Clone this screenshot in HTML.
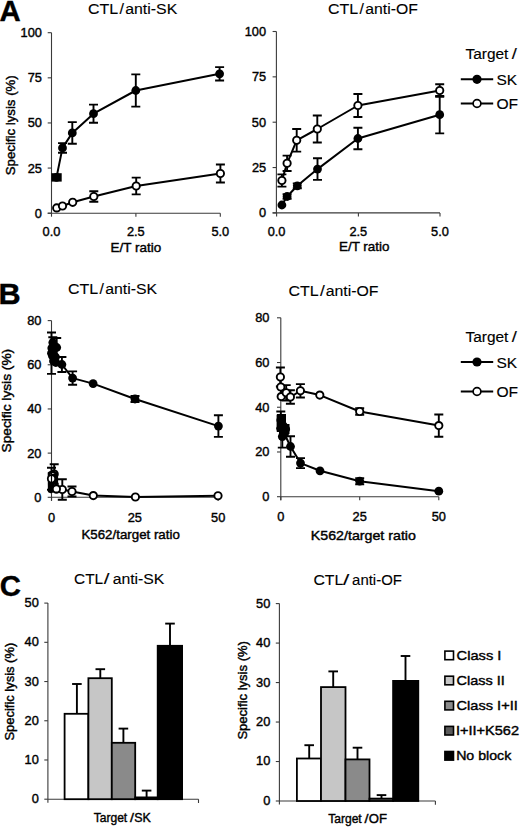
<!DOCTYPE html>
<html><head><meta charset="utf-8"><style>
html,body{margin:0;padding:0;background:#fff;}
svg{display:block;font-family:"Liberation Sans",sans-serif;}
</style></head><body>
<svg width="520" height="827" viewBox="0 0 520 827">
<rect width="520" height="827" fill="#fff"/>
<text transform="translate(-0.43,21.30) scale(1.0125,1)" font-size="29.0" font-weight="bold" fill="#000" stroke="#000" stroke-width="0.4">A</text>
<text transform="translate(87.99,13.60) scale(1.0329,1)" font-size="15.5" fill="#000" stroke="#000" stroke-width="0.12">CTL</text>
<text transform="translate(119.40,13.60) scale(1.0450,1)" font-size="15.5" fill="#000" stroke="#000" stroke-width="0.12">/</text>
<text transform="translate(125.23,13.60) scale(1.0241,1)" font-size="15.5" fill="#000" stroke="#000" stroke-width="0.12">anti-SK</text>
<text transform="translate(327.99,13.60) scale(1.0329,1)" font-size="15.5" fill="#000" stroke="#000" stroke-width="0.12">CTL</text>
<text transform="translate(359.60,13.60) scale(1.0217,1)" font-size="15.5" fill="#000" stroke="#000" stroke-width="0.12">/</text>
<text transform="translate(365.33,13.60) scale(1.0179,1)" font-size="15.5" fill="#000" stroke="#000" stroke-width="0.12">anti-OF</text>
<line x1="51.50" y1="32.70" x2="51.50" y2="213.20" stroke="#3a3a3a" stroke-width="1.1"/>
<line x1="47.70" y1="32.70" x2="51.50" y2="32.70" stroke="#3a3a3a" stroke-width="1.1"/>
<text transform="translate(20.54,37.17) scale(1.0000,1)" font-size="12.8" fill="#000" stroke="#000" stroke-width="0.4">100</text>
<line x1="47.70" y1="77.83" x2="51.50" y2="77.83" stroke="#3a3a3a" stroke-width="1.1"/>
<text transform="translate(27.70,82.29) scale(1.0000,1)" font-size="12.8" fill="#000" stroke="#000" stroke-width="0.4">75</text>
<line x1="47.70" y1="122.95" x2="51.50" y2="122.95" stroke="#3a3a3a" stroke-width="1.1"/>
<text transform="translate(27.66,127.42) scale(1.0000,1)" font-size="12.8" fill="#000" stroke="#000" stroke-width="0.4">50</text>
<line x1="47.70" y1="168.07" x2="51.50" y2="168.07" stroke="#3a3a3a" stroke-width="1.1"/>
<text transform="translate(27.70,172.54) scale(1.0000,1)" font-size="12.8" fill="#000" stroke="#000" stroke-width="0.4">25</text>
<line x1="47.70" y1="213.20" x2="51.50" y2="213.20" stroke="#3a3a3a" stroke-width="1.1"/>
<text transform="translate(34.78,217.67) scale(1.0000,1)" font-size="12.8" fill="#000" stroke="#000" stroke-width="0.4">0</text>
<line x1="47.70" y1="213.20" x2="220.30" y2="213.20" stroke="#3a3a3a" stroke-width="1.1"/>
<line x1="51.50" y1="213.20" x2="51.50" y2="216.70" stroke="#3a3a3a" stroke-width="1.1"/>
<text transform="translate(42.60,236.30) scale(1.0000,1)" font-size="12.8" fill="#000" stroke="#000" stroke-width="0.4">0.0</text>
<line x1="135.90" y1="213.20" x2="135.90" y2="216.70" stroke="#3a3a3a" stroke-width="1.1"/>
<text transform="translate(126.95,236.30) scale(1.0000,1)" font-size="12.8" fill="#000" stroke="#000" stroke-width="0.4">2.5</text>
<line x1="220.30" y1="213.20" x2="220.30" y2="216.70" stroke="#3a3a3a" stroke-width="1.1"/>
<text transform="translate(211.40,236.30) scale(1.0000,1)" font-size="12.8" fill="#000" stroke="#000" stroke-width="0.4">5.0</text>
<text transform="translate(110.60,252.30) scale(1.0684,1)" font-size="12.6" fill="#000" stroke="#000" stroke-width="0.4">E/T ratio</text>
<text transform="translate(14.90,175.20) rotate(-90) scale(1.0505,1)" font-size="12.6" stroke="#000" stroke-width="0.4">Specific lysis (%)</text>
<polyline points="56.50,177.40 62.50,147.90 72.30,132.90 93.50,113.70 135.80,90.50 219.60,73.80" fill="none" stroke="#000" stroke-width="2.0" stroke-linejoin="round"/>
<polyline points="56.70,207.90 62.50,206.00 72.70,202.30 93.80,196.50 136.20,186.00 220.40,173.50" fill="none" stroke="#000" stroke-width="2.0" stroke-linejoin="round"/>
<path d="M62.50 143.10V152.70M58.00 143.10H67.00M58.00 152.70H67.00" stroke="#000" stroke-width="1.9" fill="none"/>
<path d="M72.30 122.10V143.70M67.80 122.10H76.80M67.80 143.70H76.80" stroke="#000" stroke-width="1.9" fill="none"/>
<path d="M93.50 104.60V122.80M89.00 104.60H98.00M89.00 122.80H98.00" stroke="#000" stroke-width="1.9" fill="none"/>
<path d="M135.80 74.40V106.60M131.30 74.40H140.30M131.30 106.60H140.30" stroke="#000" stroke-width="1.9" fill="none"/>
<path d="M219.60 67.10V80.50M215.10 67.10H224.10M215.10 80.50H224.10" stroke="#000" stroke-width="1.9" fill="none"/>
<path d="M93.80 191.30V201.70M89.30 191.30H98.30M89.30 201.70H98.30" stroke="#000" stroke-width="1.9" fill="none"/>
<path d="M136.20 177.60V194.40M131.70 177.60H140.70M131.70 194.40H140.70" stroke="#000" stroke-width="1.9" fill="none"/>
<path d="M220.40 164.50V182.50M215.90 164.50H224.90M215.90 182.50H224.90" stroke="#000" stroke-width="1.9" fill="none"/>
<circle cx="56.50" cy="177.40" r="4.4" fill="#000"/>
<circle cx="62.50" cy="147.90" r="4.4" fill="#000"/>
<circle cx="72.30" cy="132.90" r="4.4" fill="#000"/>
<circle cx="93.50" cy="113.70" r="4.4" fill="#000"/>
<circle cx="135.80" cy="90.50" r="4.4" fill="#000"/>
<circle cx="219.60" cy="73.80" r="4.4" fill="#000"/>
<rect x="51.4" y="173.2" width="10.3" height="8.4" fill="#000"/>
<circle cx="56.70" cy="207.90" r="3.65" fill="#fff" stroke="#000" stroke-width="1.9"/>
<circle cx="62.50" cy="206.00" r="3.65" fill="#fff" stroke="#000" stroke-width="1.9"/>
<circle cx="72.70" cy="202.30" r="3.65" fill="#fff" stroke="#000" stroke-width="1.9"/>
<circle cx="93.80" cy="196.50" r="3.65" fill="#fff" stroke="#000" stroke-width="1.9"/>
<circle cx="136.20" cy="186.00" r="3.65" fill="#fff" stroke="#000" stroke-width="1.9"/>
<circle cx="220.40" cy="173.50" r="3.65" fill="#fff" stroke="#000" stroke-width="1.9"/>
<line x1="276.40" y1="31.50" x2="276.40" y2="212.90" stroke="#3a3a3a" stroke-width="1.1"/>
<line x1="272.60" y1="31.50" x2="276.40" y2="31.50" stroke="#3a3a3a" stroke-width="1.1"/>
<text transform="translate(244.74,35.97) scale(1.0000,1)" font-size="12.8" fill="#000" stroke="#000" stroke-width="0.4">100</text>
<line x1="272.60" y1="76.85" x2="276.40" y2="76.85" stroke="#3a3a3a" stroke-width="1.1"/>
<text transform="translate(251.90,81.32) scale(1.0000,1)" font-size="12.8" fill="#000" stroke="#000" stroke-width="0.4">75</text>
<line x1="272.60" y1="122.20" x2="276.40" y2="122.20" stroke="#3a3a3a" stroke-width="1.1"/>
<text transform="translate(251.86,126.67) scale(1.0000,1)" font-size="12.8" fill="#000" stroke="#000" stroke-width="0.4">50</text>
<line x1="272.60" y1="167.55" x2="276.40" y2="167.55" stroke="#3a3a3a" stroke-width="1.1"/>
<text transform="translate(251.90,172.02) scale(1.0000,1)" font-size="12.8" fill="#000" stroke="#000" stroke-width="0.4">25</text>
<line x1="272.60" y1="212.90" x2="276.40" y2="212.90" stroke="#3a3a3a" stroke-width="1.1"/>
<text transform="translate(258.98,217.37) scale(1.0000,1)" font-size="12.8" fill="#000" stroke="#000" stroke-width="0.4">0</text>
<line x1="272.60" y1="212.90" x2="440.00" y2="212.90" stroke="#3a3a3a" stroke-width="1.1"/>
<line x1="276.60" y1="212.90" x2="276.60" y2="216.40" stroke="#3a3a3a" stroke-width="1.1"/>
<text transform="translate(267.70,235.60) scale(1.0000,1)" font-size="12.8" fill="#000" stroke="#000" stroke-width="0.4">0.0</text>
<line x1="358.40" y1="212.90" x2="358.40" y2="216.40" stroke="#3a3a3a" stroke-width="1.1"/>
<text transform="translate(349.45,235.60) scale(1.0000,1)" font-size="12.8" fill="#000" stroke="#000" stroke-width="0.4">2.5</text>
<line x1="440.00" y1="212.90" x2="440.00" y2="216.40" stroke="#3a3a3a" stroke-width="1.1"/>
<text transform="translate(431.10,235.60) scale(1.0000,1)" font-size="12.8" fill="#000" stroke="#000" stroke-width="0.4">5.0</text>
<text transform="translate(339.00,250.70) scale(1.0662,1)" font-size="12.6" fill="#000" stroke="#000" stroke-width="0.4">E/T ratio</text>
<polyline points="281.90,205.00 287.10,196.50 297.30,185.80 317.50,169.10 357.90,138.50 439.70,114.70" fill="none" stroke="#000" stroke-width="2.0" stroke-linejoin="round"/>
<polyline points="281.90,180.50 287.10,163.30 296.70,140.30 317.30,129.00 357.90,105.50 439.70,90.50" fill="none" stroke="#000" stroke-width="2.0" stroke-linejoin="round"/>
<path d="M287.10 194.30V198.70M282.60 194.30H291.60M282.60 198.70H291.60" stroke="#000" stroke-width="1.9" fill="none"/>
<path d="M297.30 183.40V188.20M292.80 183.40H301.80M292.80 188.20H301.80" stroke="#000" stroke-width="1.9" fill="none"/>
<path d="M317.50 158.30V179.90M313.00 158.30H322.00M313.00 179.90H322.00" stroke="#000" stroke-width="1.9" fill="none"/>
<path d="M357.90 127.70V149.30M353.40 127.70H362.40M353.40 149.30H362.40" stroke="#000" stroke-width="1.9" fill="none"/>
<path d="M439.70 96.00V133.40M435.20 96.00H444.20M435.20 133.40H444.20" stroke="#000" stroke-width="1.9" fill="none"/>
<path d="M281.90 174.40V186.60M277.40 174.40H286.40M277.40 186.60H286.40" stroke="#000" stroke-width="1.9" fill="none"/>
<path d="M287.10 155.60V171.00M282.60 155.60H291.60M282.60 171.00H291.60" stroke="#000" stroke-width="1.9" fill="none"/>
<path d="M296.70 129.00V151.60M292.20 129.00H301.20M292.20 151.60H301.20" stroke="#000" stroke-width="1.9" fill="none"/>
<path d="M317.30 115.50V142.50M312.80 115.50H321.80M312.80 142.50H321.80" stroke="#000" stroke-width="1.9" fill="none"/>
<path d="M357.90 94.00V117.00M353.40 94.00H362.40M353.40 117.00H362.40" stroke="#000" stroke-width="1.9" fill="none"/>
<path d="M439.70 84.20V96.80M435.20 84.20H444.20M435.20 96.80H444.20" stroke="#000" stroke-width="1.9" fill="none"/>
<circle cx="281.90" cy="205.00" r="4.4" fill="#000"/>
<circle cx="287.10" cy="196.50" r="4.4" fill="#000"/>
<circle cx="297.30" cy="185.80" r="4.4" fill="#000"/>
<circle cx="317.50" cy="169.10" r="4.4" fill="#000"/>
<circle cx="357.90" cy="138.50" r="4.4" fill="#000"/>
<circle cx="439.70" cy="114.70" r="4.4" fill="#000"/>
<circle cx="281.90" cy="180.50" r="3.65" fill="#fff" stroke="#000" stroke-width="1.9"/>
<circle cx="287.10" cy="163.30" r="3.65" fill="#fff" stroke="#000" stroke-width="1.9"/>
<circle cx="296.70" cy="140.30" r="3.65" fill="#fff" stroke="#000" stroke-width="1.9"/>
<circle cx="317.30" cy="129.00" r="3.65" fill="#fff" stroke="#000" stroke-width="1.9"/>
<circle cx="357.90" cy="105.50" r="3.65" fill="#fff" stroke="#000" stroke-width="1.9"/>
<circle cx="439.70" cy="90.50" r="3.65" fill="#fff" stroke="#000" stroke-width="1.9"/>
<text transform="translate(465.45,58.80) scale(0.9969,1)" font-size="15.5" fill="#000" stroke="#000" stroke-width="0.15">Target</text>
<text transform="translate(511.80,58.80) scale(1.1843,1)" font-size="15.5" fill="#000" stroke="#000" stroke-width="0.15">/</text>
<line x1="460.80" y1="79.30" x2="493.20" y2="79.30" stroke="#000" stroke-width="2.0"/>
<circle cx="477.00" cy="79.30" r="4.6" fill="#000"/>
<text transform="translate(496.50,84.80) scale(1.0617,1)" font-size="14.6" fill="#000" stroke="#000" stroke-width="0.15">SK</text>
<line x1="460.80" y1="103.50" x2="493.20" y2="103.50" stroke="#000" stroke-width="2.0"/>
<circle cx="477.00" cy="103.50" r="3.9" fill="#fff" stroke="#000" stroke-width="1.7"/>
<text transform="translate(496.46,108.70) scale(1.0685,1)" font-size="14.6" fill="#000" stroke="#000" stroke-width="0.15">OF</text>
<text transform="translate(-1.55,304.00) scale(1.0573,1)" font-size="29.0" font-weight="bold" fill="#000" stroke="#000" stroke-width="0.4">B</text>
<text transform="translate(67.99,294.40) scale(1.0329,1)" font-size="15.5" fill="#000" stroke="#000" stroke-width="0.12">CTL</text>
<text transform="translate(99.60,294.40) scale(1.0217,1)" font-size="15.5" fill="#000" stroke="#000" stroke-width="0.12">/</text>
<text transform="translate(105.13,294.40) scale(1.0221,1)" font-size="15.5" fill="#000" stroke="#000" stroke-width="0.12">anti-SK</text>
<text transform="translate(288.39,295.80) scale(1.0329,1)" font-size="15.5" fill="#000" stroke="#000" stroke-width="0.12">CTL</text>
<text transform="translate(320.00,295.80) scale(1.1146,1)" font-size="15.5" fill="#000" stroke="#000" stroke-width="0.12">/</text>
<text transform="translate(325.63,295.80) scale(1.0239,1)" font-size="15.5" fill="#000" stroke="#000" stroke-width="0.12">anti-OF</text>
<line x1="51.50" y1="320.60" x2="51.50" y2="500.80" stroke="#3a3a3a" stroke-width="1.1"/>
<line x1="47.70" y1="320.60" x2="51.50" y2="320.60" stroke="#3a3a3a" stroke-width="1.1"/>
<text transform="translate(27.16,325.07) scale(1.0000,1)" font-size="12.8" fill="#000" stroke="#000" stroke-width="0.4">80</text>
<line x1="47.70" y1="364.78" x2="51.50" y2="364.78" stroke="#3a3a3a" stroke-width="1.1"/>
<text transform="translate(27.16,369.24) scale(1.0000,1)" font-size="12.8" fill="#000" stroke="#000" stroke-width="0.4">60</text>
<line x1="47.70" y1="408.95" x2="51.50" y2="408.95" stroke="#3a3a3a" stroke-width="1.1"/>
<text transform="translate(27.16,413.42) scale(1.0000,1)" font-size="12.8" fill="#000" stroke="#000" stroke-width="0.4">40</text>
<line x1="47.70" y1="453.12" x2="51.50" y2="453.12" stroke="#3a3a3a" stroke-width="1.1"/>
<text transform="translate(27.16,457.59) scale(1.0000,1)" font-size="12.8" fill="#000" stroke="#000" stroke-width="0.4">20</text>
<line x1="47.70" y1="497.30" x2="51.50" y2="497.30" stroke="#3a3a3a" stroke-width="1.1"/>
<text transform="translate(34.28,501.77) scale(1.0000,1)" font-size="12.8" fill="#000" stroke="#000" stroke-width="0.4">0</text>
<line x1="51.50" y1="497.30" x2="218.20" y2="497.30" stroke="#3a3a3a" stroke-width="1.1"/>
<line x1="51.50" y1="497.30" x2="51.50" y2="500.80" stroke="#3a3a3a" stroke-width="1.1"/>
<text transform="translate(47.94,521.50) scale(1.0000,1)" font-size="12.8" fill="#000" stroke="#000" stroke-width="0.4">0</text>
<line x1="134.80" y1="497.30" x2="134.80" y2="500.80" stroke="#3a3a3a" stroke-width="1.1"/>
<text transform="translate(127.63,521.50) scale(1.0000,1)" font-size="12.8" fill="#000" stroke="#000" stroke-width="0.4">25</text>
<line x1="218.20" y1="497.30" x2="218.20" y2="500.80" stroke="#3a3a3a" stroke-width="1.1"/>
<text transform="translate(211.07,521.50) scale(1.0000,1)" font-size="12.8" fill="#000" stroke="#000" stroke-width="0.4">50</text>
<text transform="translate(81.41,539.40) scale(1.0579,1)" font-size="12.6" fill="#000" stroke="#000" stroke-width="0.4">K562/target ratio</text>
<text transform="translate(10.50,452.42) rotate(-90) scale(1.0889,1)" font-size="12.6" stroke="#000" stroke-width="0.4">Specific lysis (%)</text>
<polyline points="51.50,353.20 52.80,342.50 51.80,348.00 54.10,346.00 52.50,356.00 56.70,347.50 53.50,361.00 55.50,357.00 55.80,362.50 61.90,364.50 72.60,378.10 93.10,383.60 135.00,399.00 218.40,426.10" fill="none" stroke="#000" stroke-width="2.0" stroke-linejoin="round"/>
<polyline points="51.50,478.80 54.20,474.00 52.50,484.00 56.40,488.90 62.30,489.50 72.00,491.50 93.30,495.60 135.40,497.00 218.00,495.80" fill="none" stroke="#000" stroke-width="2.0" stroke-linejoin="round"/>
<path d="M51.50 332.50V373.90M47.00 332.50H56.00M47.00 373.90H56.00" stroke="#000" stroke-width="1.9" fill="none"/>
<path d="M52.80 337.20V347.80M48.30 337.20H57.30M48.30 347.80H57.30" stroke="#000" stroke-width="1.9" fill="none"/>
<path d="M56.70 338.00V357.00M52.20 338.00H61.20M52.20 357.00H61.20" stroke="#000" stroke-width="1.9" fill="none"/>
<path d="M61.90 357.00V372.00M57.40 357.00H66.40M57.40 372.00H66.40" stroke="#000" stroke-width="1.9" fill="none"/>
<path d="M72.60 371.40V384.80M68.10 371.40H77.10M68.10 384.80H77.10" stroke="#000" stroke-width="1.9" fill="none"/>
<path d="M135.00 396.00V402.00M130.50 396.00H139.50M130.50 402.00H139.50" stroke="#000" stroke-width="1.9" fill="none"/>
<path d="M218.40 415.30V436.90M213.90 415.30H222.90M213.90 436.90H222.90" stroke="#000" stroke-width="1.9" fill="none"/>
<path d="M51.50 467.80V489.80M47.00 467.80H56.00M47.00 489.80H56.00" stroke="#000" stroke-width="1.9" fill="none"/>
<path d="M54.20 464.20V483.80M49.70 464.20H58.70M49.70 483.80H58.70" stroke="#000" stroke-width="1.9" fill="none"/>
<path d="M62.30 479.30V499.70M57.80 479.30H66.80M57.80 499.70H66.80" stroke="#000" stroke-width="1.9" fill="none"/>
<path d="M72.00 486.50V496.50M67.50 486.50H76.50M67.50 496.50H76.50" stroke="#000" stroke-width="1.9" fill="none"/>
<circle cx="51.50" cy="353.20" r="4.4" fill="#000"/>
<circle cx="52.80" cy="342.50" r="4.4" fill="#000"/>
<circle cx="51.80" cy="348.00" r="4.4" fill="#000"/>
<circle cx="54.10" cy="346.00" r="4.4" fill="#000"/>
<circle cx="52.50" cy="356.00" r="4.4" fill="#000"/>
<circle cx="56.70" cy="347.50" r="4.4" fill="#000"/>
<circle cx="53.50" cy="361.00" r="4.4" fill="#000"/>
<circle cx="55.50" cy="357.00" r="4.4" fill="#000"/>
<circle cx="55.80" cy="362.50" r="4.4" fill="#000"/>
<circle cx="61.90" cy="364.50" r="4.4" fill="#000"/>
<circle cx="72.60" cy="378.10" r="4.4" fill="#000"/>
<circle cx="93.10" cy="383.60" r="4.4" fill="#000"/>
<circle cx="135.00" cy="399.00" r="4.4" fill="#000"/>
<circle cx="218.40" cy="426.10" r="4.4" fill="#000"/>
<circle cx="51.50" cy="478.80" r="3.65" fill="#fff" stroke="#000" stroke-width="1.9"/>
<circle cx="54.20" cy="474.00" r="3.65" fill="#fff" stroke="#000" stroke-width="1.9"/>
<circle cx="52.50" cy="484.00" r="3.65" fill="#fff" stroke="#000" stroke-width="1.9"/>
<circle cx="56.40" cy="488.90" r="3.65" fill="#fff" stroke="#000" stroke-width="1.9"/>
<circle cx="62.30" cy="489.50" r="3.65" fill="#fff" stroke="#000" stroke-width="1.9"/>
<circle cx="72.00" cy="491.50" r="3.65" fill="#fff" stroke="#000" stroke-width="1.9"/>
<circle cx="93.30" cy="495.60" r="3.65" fill="#fff" stroke="#000" stroke-width="1.9"/>
<circle cx="135.40" cy="497.00" r="3.65" fill="#fff" stroke="#000" stroke-width="1.9"/>
<circle cx="218.00" cy="495.80" r="3.65" fill="#fff" stroke="#000" stroke-width="1.9"/>
<path d="M47.7 472.5 Q49 470.6 53 470.8 Q57.6 471 58.1 474.5 L58.1 482.8 Q57 484.6 54 485 L53.2 492.5 Q50 494 47.9 492 Z" fill="#000"/>
<circle cx="51.5" cy="478.8" r="2.8" fill="#fff"/>
<path d="M50.2 474.4 Q52.2 471.8 54.6 474.0 Q52.2 473.2 50.2 474.4 Z" fill="#fff"/>
<line x1="51.50" y1="471.00" x2="51.50" y2="487.00" stroke="#000" stroke-width="1.2"/>
<circle cx="56.40" cy="488.90" r="3.65" fill="#fff" stroke="#000" stroke-width="1.9"/>
<line x1="280.80" y1="317.80" x2="280.80" y2="500.20" stroke="#3a3a3a" stroke-width="1.1"/>
<line x1="277.00" y1="317.80" x2="280.80" y2="317.80" stroke="#3a3a3a" stroke-width="1.1"/>
<text transform="translate(255.16,322.27) scale(1.0000,1)" font-size="12.8" fill="#000" stroke="#000" stroke-width="0.4">80</text>
<line x1="277.00" y1="362.52" x2="280.80" y2="362.52" stroke="#3a3a3a" stroke-width="1.1"/>
<text transform="translate(255.16,366.99) scale(1.0000,1)" font-size="12.8" fill="#000" stroke="#000" stroke-width="0.4">60</text>
<line x1="277.00" y1="407.25" x2="280.80" y2="407.25" stroke="#3a3a3a" stroke-width="1.1"/>
<text transform="translate(255.16,411.72) scale(1.0000,1)" font-size="12.8" fill="#000" stroke="#000" stroke-width="0.4">40</text>
<line x1="277.00" y1="451.98" x2="280.80" y2="451.98" stroke="#3a3a3a" stroke-width="1.1"/>
<text transform="translate(255.16,456.44) scale(1.0000,1)" font-size="12.8" fill="#000" stroke="#000" stroke-width="0.4">20</text>
<line x1="277.00" y1="496.70" x2="280.80" y2="496.70" stroke="#3a3a3a" stroke-width="1.1"/>
<text transform="translate(262.28,501.17) scale(1.0000,1)" font-size="12.8" fill="#000" stroke="#000" stroke-width="0.4">0</text>
<line x1="280.80" y1="496.70" x2="438.80" y2="496.70" stroke="#3a3a3a" stroke-width="1.1"/>
<line x1="280.80" y1="496.70" x2="280.80" y2="500.20" stroke="#3a3a3a" stroke-width="1.1"/>
<text transform="translate(277.24,521.40) scale(1.0000,1)" font-size="12.8" fill="#000" stroke="#000" stroke-width="0.4">0</text>
<line x1="359.70" y1="496.70" x2="359.70" y2="500.20" stroke="#3a3a3a" stroke-width="1.1"/>
<text transform="translate(352.53,521.40) scale(1.0000,1)" font-size="12.8" fill="#000" stroke="#000" stroke-width="0.4">25</text>
<line x1="438.80" y1="496.70" x2="438.80" y2="500.20" stroke="#3a3a3a" stroke-width="1.1"/>
<text transform="translate(431.68,521.40) scale(1.0000,1)" font-size="12.8" fill="#000" stroke="#000" stroke-width="0.4">50</text>
<text transform="translate(310.83,540.40) scale(1.1289,1)" font-size="12.6" fill="#000" stroke="#000" stroke-width="0.4">K562/target ratio</text>
<polyline points="280.80,420.00 281.50,423.00 281.00,428.00 283.50,426.00 285.70,429.00 282.30,436.60 284.50,434.00 290.50,446.50 300.50,463.10 320.00,470.80 359.70,481.20 438.80,491.20" fill="none" stroke="#000" stroke-width="2.0" stroke-linejoin="round"/>
<polyline points="280.40,377.00 280.80,387.00 281.20,396.60 286.20,392.80 290.40,397.00 300.40,390.80 319.80,395.10 359.70,411.50 438.80,425.60" fill="none" stroke="#000" stroke-width="2.0" stroke-linejoin="round"/>
<path d="M280.80 411.50V428.50M276.30 411.50H285.30M276.30 428.50H285.30" stroke="#000" stroke-width="1.9" fill="none"/>
<path d="M281.50 415.00V431.00M277.00 415.00H286.00M277.00 431.00H286.00" stroke="#000" stroke-width="1.9" fill="none"/>
<path d="M282.30 425.60V447.60M277.80 425.60H286.80M277.80 447.60H286.80" stroke="#000" stroke-width="1.9" fill="none"/>
<path d="M290.50 436.20V456.80M286.00 436.20H295.00M286.00 456.80H295.00" stroke="#000" stroke-width="1.9" fill="none"/>
<path d="M300.50 458.10V468.10M296.00 458.10H305.00M296.00 468.10H305.00" stroke="#000" stroke-width="1.9" fill="none"/>
<path d="M359.70 478.20V484.20M355.20 478.20H364.20M355.20 484.20H364.20" stroke="#000" stroke-width="1.9" fill="none"/>
<path d="M280.40 367.50V386.50M275.90 367.50H284.90M275.90 386.50H284.90" stroke="#000" stroke-width="1.9" fill="none"/>
<path d="M286.20 385.10V400.50M281.70 385.10H290.70M281.70 400.50H290.70" stroke="#000" stroke-width="1.9" fill="none"/>
<path d="M290.40 390.20V403.80M285.90 390.20H294.90M285.90 403.80H294.90" stroke="#000" stroke-width="1.9" fill="none"/>
<path d="M300.40 384.10V397.50M295.90 384.10H304.90M295.90 397.50H304.90" stroke="#000" stroke-width="1.9" fill="none"/>
<path d="M359.70 408.30V414.70M355.20 408.30H364.20M355.20 414.70H364.20" stroke="#000" stroke-width="1.9" fill="none"/>
<path d="M438.80 414.50V436.70M434.30 414.50H443.30M434.30 436.70H443.30" stroke="#000" stroke-width="1.9" fill="none"/>
<circle cx="280.80" cy="420.00" r="4.4" fill="#000"/>
<circle cx="281.50" cy="423.00" r="4.4" fill="#000"/>
<circle cx="281.00" cy="428.00" r="4.4" fill="#000"/>
<circle cx="283.50" cy="426.00" r="4.4" fill="#000"/>
<circle cx="285.70" cy="429.00" r="4.4" fill="#000"/>
<circle cx="282.30" cy="436.60" r="4.4" fill="#000"/>
<circle cx="284.50" cy="434.00" r="4.4" fill="#000"/>
<circle cx="290.50" cy="446.50" r="4.4" fill="#000"/>
<circle cx="300.50" cy="463.10" r="4.4" fill="#000"/>
<circle cx="320.00" cy="470.80" r="4.4" fill="#000"/>
<circle cx="359.70" cy="481.20" r="4.4" fill="#000"/>
<circle cx="438.80" cy="491.20" r="4.4" fill="#000"/>
<rect x="276.6" y="414.6" width="9.4" height="17" fill="#000"/>
<rect x="279" y="424" width="10.5" height="10" fill="#000"/>
<circle cx="280.40" cy="377.00" r="3.65" fill="#fff" stroke="#000" stroke-width="1.9"/>
<circle cx="280.80" cy="387.00" r="3.65" fill="#fff" stroke="#000" stroke-width="1.9"/>
<circle cx="281.20" cy="396.60" r="3.65" fill="#fff" stroke="#000" stroke-width="1.9"/>
<circle cx="286.20" cy="392.80" r="3.65" fill="#fff" stroke="#000" stroke-width="1.9"/>
<circle cx="290.40" cy="397.00" r="3.65" fill="#fff" stroke="#000" stroke-width="1.9"/>
<circle cx="300.40" cy="390.80" r="3.65" fill="#fff" stroke="#000" stroke-width="1.9"/>
<circle cx="319.80" cy="395.10" r="3.65" fill="#fff" stroke="#000" stroke-width="1.9"/>
<circle cx="359.70" cy="411.50" r="3.65" fill="#fff" stroke="#000" stroke-width="1.9"/>
<circle cx="438.80" cy="425.60" r="3.65" fill="#fff" stroke="#000" stroke-width="1.9"/>
<text transform="translate(465.45,342.30) scale(0.9969,1)" font-size="15.5" fill="#000" stroke="#000" stroke-width="0.15">Target</text>
<text transform="translate(511.80,342.30) scale(1.1843,1)" font-size="15.5" fill="#000" stroke="#000" stroke-width="0.15">/</text>
<line x1="460.80" y1="362.00" x2="493.20" y2="362.00" stroke="#000" stroke-width="2.0"/>
<circle cx="477.00" cy="362.00" r="4.6" fill="#000"/>
<text transform="translate(496.50,367.50) scale(1.0617,1)" font-size="14.6" fill="#000" stroke="#000" stroke-width="0.15">SK</text>
<line x1="460.80" y1="391.50" x2="493.20" y2="391.50" stroke="#000" stroke-width="2.0"/>
<circle cx="477.00" cy="391.50" r="3.9" fill="#fff" stroke="#000" stroke-width="1.7"/>
<text transform="translate(496.46,396.70) scale(1.0685,1)" font-size="14.6" fill="#000" stroke="#000" stroke-width="0.15">OF</text>
<text transform="translate(-0.20,596.00) scale(1.0126,1)" font-size="29.0" font-weight="bold" fill="#000" stroke="#000" stroke-width="0.4">C</text>
<text transform="translate(74.02,584.40) scale(0.9971,1)" font-size="15.5" fill="#000" stroke="#000" stroke-width="0.12">CTL</text>
<text transform="translate(103.70,584.40) scale(1.3236,1)" font-size="15.5" fill="#000" stroke="#000" stroke-width="0.12">/</text>
<text transform="translate(112.63,584.40) scale(1.0181,1)" font-size="15.5" fill="#000" stroke="#000" stroke-width="0.12">anti-SK</text>
<text transform="translate(313.40,585.40) scale(1.0186,1)" font-size="15.5" fill="#000" stroke="#000" stroke-width="0.12">CTL</text>
<text transform="translate(343.10,585.40) scale(1.4629,1)" font-size="15.5" fill="#000" stroke="#000" stroke-width="0.12">/</text>
<text transform="translate(352.07,585.40) scale(0.9643,1)" font-size="15.5" fill="#000" stroke="#000" stroke-width="0.12">anti-OF</text>
<line x1="47.90" y1="603.10" x2="47.90" y2="802.80" stroke="#3a3a3a" stroke-width="1.1"/>
<line x1="44.30" y1="603.10" x2="47.90" y2="603.10" stroke="#3a3a3a" stroke-width="1.1"/>
<text transform="translate(24.56,607.07) scale(1.0000,1)" font-size="12.8" fill="#000" stroke="#000" stroke-width="0.4">50</text>
<line x1="44.30" y1="642.32" x2="47.90" y2="642.32" stroke="#3a3a3a" stroke-width="1.1"/>
<text transform="translate(24.56,646.29) scale(1.0000,1)" font-size="12.8" fill="#000" stroke="#000" stroke-width="0.4">40</text>
<line x1="44.30" y1="681.54" x2="47.90" y2="681.54" stroke="#3a3a3a" stroke-width="1.1"/>
<text transform="translate(24.56,685.51) scale(1.0000,1)" font-size="12.8" fill="#000" stroke="#000" stroke-width="0.4">30</text>
<line x1="44.30" y1="720.76" x2="47.90" y2="720.76" stroke="#3a3a3a" stroke-width="1.1"/>
<text transform="translate(24.56,724.73) scale(1.0000,1)" font-size="12.8" fill="#000" stroke="#000" stroke-width="0.4">20</text>
<line x1="44.30" y1="759.98" x2="47.90" y2="759.98" stroke="#3a3a3a" stroke-width="1.1"/>
<text transform="translate(24.56,763.95) scale(1.0000,1)" font-size="12.8" fill="#000" stroke="#000" stroke-width="0.4">10</text>
<line x1="44.30" y1="799.20" x2="47.90" y2="799.20" stroke="#3a3a3a" stroke-width="1.1"/>
<text transform="translate(31.68,803.17) scale(1.0000,1)" font-size="12.8" fill="#000" stroke="#000" stroke-width="0.4">0</text>
<line x1="47.90" y1="799.20" x2="198.50" y2="799.20" stroke="#3a3a3a" stroke-width="1.1"/>
<line x1="198.50" y1="799.20" x2="198.50" y2="803.00" stroke="#3a3a3a" stroke-width="1.1"/>
<line x1="76.90" y1="713.80" x2="76.90" y2="684.00" stroke="#000" stroke-width="1.9"/>
<line x1="72.10" y1="684.00" x2="81.70" y2="684.00" stroke="#000" stroke-width="1.9"/>
<rect x="64.60" y="713.80" width="23.80" height="85.40" fill="#ffffff" stroke="#000" stroke-width="1.8"/>
<line x1="100.30" y1="678.20" x2="100.30" y2="669.20" stroke="#000" stroke-width="1.9"/>
<line x1="95.50" y1="669.20" x2="105.10" y2="669.20" stroke="#000" stroke-width="1.9"/>
<rect x="88.40" y="678.20" width="23.40" height="121.00" fill="#c6c6c6" stroke="#000" stroke-width="1.8"/>
<line x1="123.40" y1="742.80" x2="123.40" y2="728.60" stroke="#000" stroke-width="1.9"/>
<line x1="118.60" y1="728.60" x2="128.20" y2="728.60" stroke="#000" stroke-width="1.9"/>
<rect x="111.80" y="742.80" width="23.40" height="56.40" fill="#8a8a8a" stroke="#000" stroke-width="1.8"/>
<line x1="146.60" y1="797.40" x2="146.60" y2="790.60" stroke="#000" stroke-width="1.9"/>
<line x1="141.80" y1="790.60" x2="151.40" y2="790.60" stroke="#000" stroke-width="1.9"/>
<rect x="135.20" y="797.40" width="22.50" height="1.80" fill="#5a5a5a" stroke="#000" stroke-width="1.8"/>
<line x1="170.00" y1="645.80" x2="170.00" y2="623.60" stroke="#000" stroke-width="1.9"/>
<line x1="165.20" y1="623.60" x2="174.80" y2="623.60" stroke="#000" stroke-width="1.9"/>
<rect x="157.70" y="645.80" width="24.40" height="153.40" fill="#000000" stroke="#000" stroke-width="1.8"/>
<text transform="translate(93.63,821.60) scale(0.9305,1)" font-size="13.0" fill="#000" stroke="#000" stroke-width="0.4">Target</text>
<text transform="translate(129.90,821.60) scale(1.1075,1)" font-size="13.0" fill="#000" stroke="#000" stroke-width="0.4">/</text>
<text transform="translate(134.23,821.60) scale(0.9575,1)" font-size="13.0" fill="#000" stroke="#000" stroke-width="0.4">SK</text>
<text transform="translate(14.00,740.59) rotate(-90) scale(1.0292,1)" font-size="12.6" stroke="#000" stroke-width="0.4">Specific lysis (%)</text>
<line x1="279.40" y1="603.60" x2="279.40" y2="804.60" stroke="#3a3a3a" stroke-width="1.1"/>
<line x1="275.80" y1="603.60" x2="279.40" y2="603.60" stroke="#3a3a3a" stroke-width="1.1"/>
<text transform="translate(256.06,607.57) scale(1.0000,1)" font-size="12.8" fill="#000" stroke="#000" stroke-width="0.4">50</text>
<line x1="275.80" y1="643.08" x2="279.40" y2="643.08" stroke="#3a3a3a" stroke-width="1.1"/>
<text transform="translate(256.06,647.05) scale(1.0000,1)" font-size="12.8" fill="#000" stroke="#000" stroke-width="0.4">40</text>
<line x1="275.80" y1="682.56" x2="279.40" y2="682.56" stroke="#3a3a3a" stroke-width="1.1"/>
<text transform="translate(256.06,686.53) scale(1.0000,1)" font-size="12.8" fill="#000" stroke="#000" stroke-width="0.4">30</text>
<line x1="275.80" y1="722.04" x2="279.40" y2="722.04" stroke="#3a3a3a" stroke-width="1.1"/>
<text transform="translate(256.06,726.01) scale(1.0000,1)" font-size="12.8" fill="#000" stroke="#000" stroke-width="0.4">20</text>
<line x1="275.80" y1="761.52" x2="279.40" y2="761.52" stroke="#3a3a3a" stroke-width="1.1"/>
<text transform="translate(256.06,765.49) scale(1.0000,1)" font-size="12.8" fill="#000" stroke="#000" stroke-width="0.4">10</text>
<line x1="275.80" y1="801.00" x2="279.40" y2="801.00" stroke="#3a3a3a" stroke-width="1.1"/>
<text transform="translate(263.18,804.97) scale(1.0000,1)" font-size="12.8" fill="#000" stroke="#000" stroke-width="0.4">0</text>
<line x1="279.40" y1="801.00" x2="435.40" y2="801.00" stroke="#3a3a3a" stroke-width="1.1"/>
<line x1="435.40" y1="801.00" x2="435.40" y2="804.80" stroke="#3a3a3a" stroke-width="1.1"/>
<line x1="309.20" y1="758.50" x2="309.20" y2="745.20" stroke="#000" stroke-width="1.9"/>
<line x1="304.40" y1="745.20" x2="314.00" y2="745.20" stroke="#000" stroke-width="1.9"/>
<rect x="296.90" y="758.50" width="24.10" height="42.50" fill="#ffffff" stroke="#000" stroke-width="1.8"/>
<line x1="333.20" y1="687.10" x2="333.20" y2="671.40" stroke="#000" stroke-width="1.9"/>
<line x1="328.40" y1="671.40" x2="338.00" y2="671.40" stroke="#000" stroke-width="1.9"/>
<rect x="321.00" y="687.10" width="24.50" height="113.90" fill="#c6c6c6" stroke="#000" stroke-width="1.8"/>
<line x1="357.50" y1="759.40" x2="357.50" y2="747.70" stroke="#000" stroke-width="1.9"/>
<line x1="352.70" y1="747.70" x2="362.30" y2="747.70" stroke="#000" stroke-width="1.9"/>
<rect x="345.50" y="759.40" width="24.00" height="41.60" fill="#8a8a8a" stroke="#000" stroke-width="1.8"/>
<line x1="381.50" y1="798.60" x2="381.50" y2="795.10" stroke="#000" stroke-width="1.9"/>
<line x1="376.70" y1="795.10" x2="386.30" y2="795.10" stroke="#000" stroke-width="1.9"/>
<rect x="369.50" y="798.60" width="23.60" height="2.40" fill="#5a5a5a" stroke="#000" stroke-width="1.8"/>
<line x1="405.50" y1="680.90" x2="405.50" y2="656.00" stroke="#000" stroke-width="1.9"/>
<line x1="400.70" y1="656.00" x2="410.30" y2="656.00" stroke="#000" stroke-width="1.9"/>
<rect x="393.10" y="680.90" width="25.20" height="120.10" fill="#000000" stroke="#000" stroke-width="1.8"/>
<text transform="translate(328.13,823.00) scale(0.9305,1)" font-size="13.0" fill="#000" stroke="#000" stroke-width="0.4">Target</text>
<text transform="translate(364.40,823.00) scale(1.1075,1)" font-size="13.0" fill="#000" stroke="#000" stroke-width="0.4">/</text>
<text transform="translate(368.68,823.00) scale(1.0108,1)" font-size="13.0" fill="#000" stroke="#000" stroke-width="0.4">OF</text>
<text transform="translate(246.80,739.59) rotate(-90) scale(1.0356,1)" font-size="12.6" stroke="#000" stroke-width="0.4">Specific lysis (%)</text>
<rect x="444.90" y="651.10" width="8.6" height="8.6" fill="#ffffff" stroke="#000" stroke-width="1.6"/>
<text transform="translate(456.55,660.00) scale(1.1131,1)" font-size="13.2" fill="#000" stroke="#000" stroke-width="0.4">Class I</text>
<rect x="444.90" y="676.20" width="8.6" height="8.6" fill="#c6c6c6" stroke="#000" stroke-width="1.6"/>
<text transform="translate(456.56,685.10) scale(1.0992,1)" font-size="13.2" fill="#000" stroke="#000" stroke-width="0.4">Class II</text>
<rect x="444.90" y="701.30" width="8.6" height="8.6" fill="#8a8a8a" stroke="#000" stroke-width="1.6"/>
<text transform="translate(456.56,710.20) scale(1.1066,1)" font-size="13.2" fill="#000" stroke="#000" stroke-width="0.4">Class I+II</text>
<rect x="444.90" y="726.40" width="8.6" height="8.6" fill="#5a5a5a" stroke="#000" stroke-width="1.6"/>
<text transform="translate(455.96,735.30) scale(1.1018,1)" font-size="13.2" fill="#000" stroke="#000" stroke-width="0.4">I+II+K562</text>
<rect x="444.90" y="751.50" width="8.6" height="8.6" fill="#000000" stroke="#000" stroke-width="1.6"/>
<text transform="translate(456.14,760.40) scale(1.0737,1)" font-size="13.2" fill="#000" stroke="#000" stroke-width="0.4">No block</text>
</svg>
</body></html>
